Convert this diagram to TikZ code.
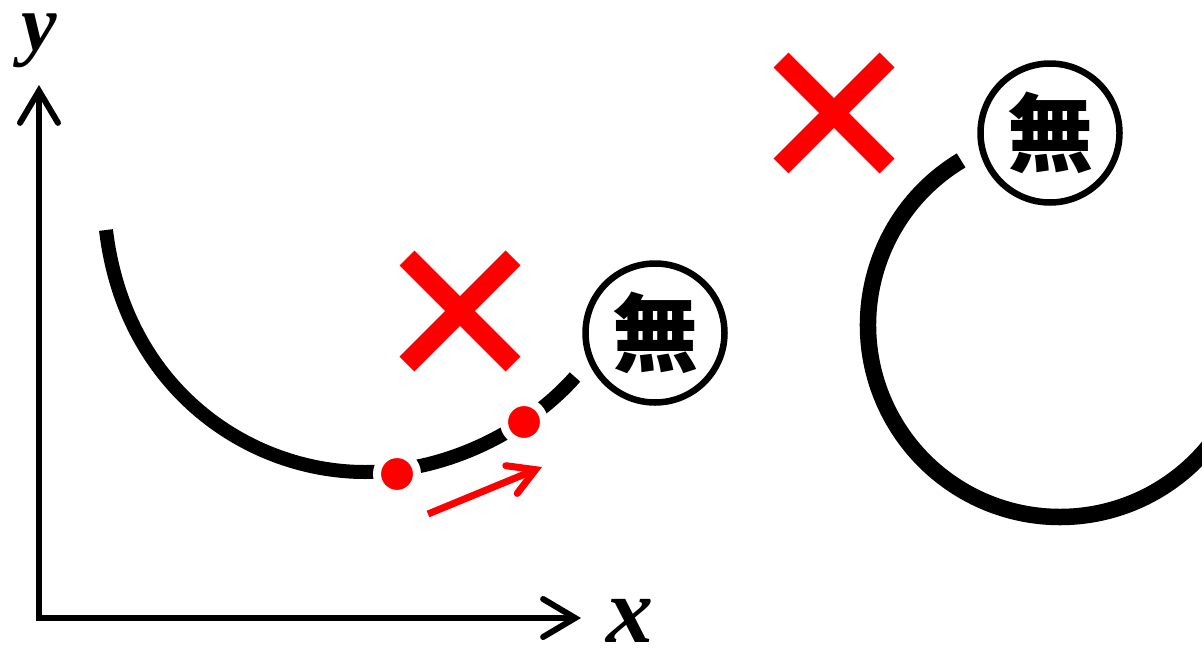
\documentclass[tikz,border=0pt]{standalone}
\usepackage{fontspec}
\setmainfont{Liberation Serif}
\newfontfamily\cjkfont{Noto Sans CJK JP}
\usetikzlibrary{arrows.meta}

\tikzset{
  axis/.style={line width=6pt, line join=miter,
    {Straight Barb[length=32pt,width=38pt,line cap=round,line join=miter]}-{Straight Barb[length=32pt,width=38pt,line cap=round,line join=miter]}},
  curve/.style={line width=14pt},
  bigcurve/.style={line width=16.5pt},
  cross/.style={draw=red, line width=21pt},
  mark dot/.style={circle, fill=red, draw=white, line width=8pt, minimum size=40pt, inner sep=0pt},
  nothing/.style={circle, draw=black, line width=6.5pt, minimum size=139pt, inner sep=0pt,
    font=\cjkfont\bfseries\fontsize{86}{86}\selectfont},
  varlabel/.style={inner sep=0pt, font=\bfseries\itshape\fontsize{#1}{#1}\selectfont},
  move/.style={draw=red, line width=7pt,
    -{Straight Barb[length=26pt,width=30pt,line cap=round,line join=miter]}}
}

\begin{document}
\begin{tikzpicture}[x=1pt,y=-1pt]
  \useasboundingbox (0,0) rectangle (1202,648);

  % coordinate axes
  \coordinate (ytip) at (39,85);
  \coordinate (origin) at (39,618);
  \coordinate (xtip) at (581,618);
  \draw[axis] (ytip) -- (origin) -- (xtip);
  \node[varlabel=80] (ylab) at (39,41) {y};
  \node[varlabel=94] (xlab) at (630,621) {x};

  % the graph of the function
  \coordinate (cstart) at (106,230);
  \coordinate (cbottom) at (365,472);
  \coordinate (cend) at (575,377);
  \draw[curve] (cstart) .. controls (125,390) and (250,472) .. (cbottom)
                        .. controls (450,472) and (530,428) .. (cend);

  % points moving along it
  \node[mark dot] (p1) at (397,474) {};
  \node[mark dot] (p2) at (524,422) {};
  \coordinate (mstart) at (428,514);
  \coordinate (mend) at (542,467);
  \draw[move] (mstart) -- (mend);

  % left cross and "none" mark
  \draw[cross] (460,311) ++(-53,-53) -- ++(106,106)
               (460,311) ++(-53,53) -- ++(106,-106);
  \node[nothing] (n1) at (655,333) {無};

  % right arc, cross and "none" mark
  \draw[bigcurve] (1060,325) ++(239:192) arc[start angle=239, end angle=38, radius=192];
  \draw[cross] (834,113) ++(-53,-53) -- ++(106,106)
               (834,113) ++(-53,53) -- ++(106,-106);
  \node[nothing] (n2) at (1050,133) {無};
\end{tikzpicture}
\end{document}
